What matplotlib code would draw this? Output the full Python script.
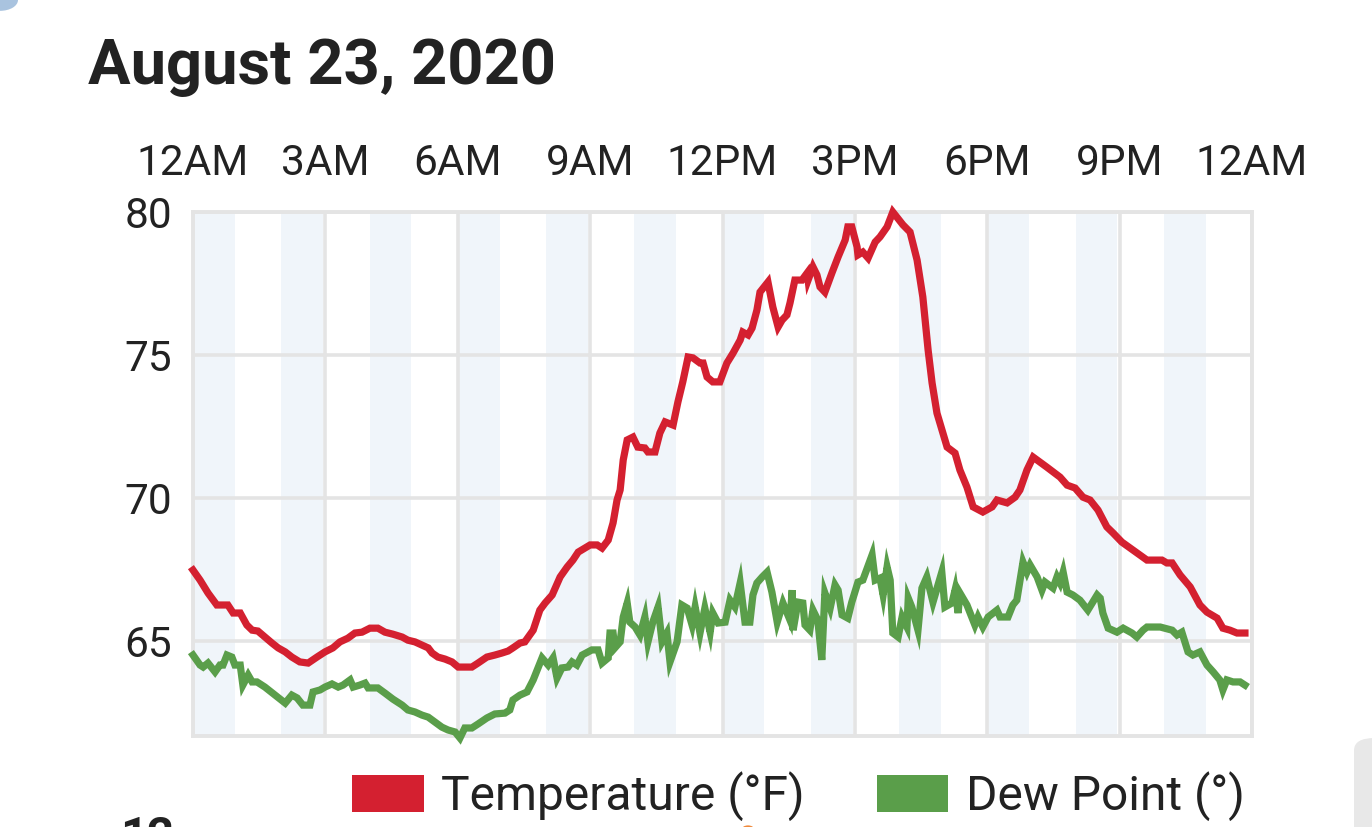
import matplotlib
matplotlib.use("Agg")
import matplotlib.pyplot as plt
from matplotlib.patches import FancyBboxPatch, Rectangle, Circle

# ---------------- data ----------------
title = "August 23, 2020"
tick_hours = [0, 3, 6, 9, 12, 15, 18, 21, 24]
tick_labels = ["12AM", "3AM", "6AM", "9AM", "12PM", "3PM", "6PM", "9PM", "12AM"]
y_ticks = [65, 70, 75, 80]
series_names = ["Temperature (°F)", "Dew Point (°)"]

temp_hours = [0.00, 0.16, 0.34, 0.54, 0.79, 0.91, 1.07, 1.22, 1.34, 1.47, 1.63, 1.79, 1.93,
              2.09, 2.24, 2.42, 2.61, 2.81, 2.99, 3.17, 3.33, 3.51, 3.67, 3.83, 4.01, 4.19,
              4.35, 4.53, 4.74, 4.87, 5.03, 5.19, 5.33, 5.42, 5.55, 5.71, 5.87, 6.01, 6.32,
              6.46, 6.66, 6.84, 7.00, 7.14, 7.25, 7.41, 7.52, 7.71, 7.86, 7.98, 8.14, 8.32,
              8.48, 8.61, 8.73, 9.00, 9.16, 9.27, 9.41, 9.52, 9.61, 9.68, 9.75, 9.84, 9.97,
              10.08, 10.24, 10.31, 10.47, 10.58, 10.70, 10.88, 10.99, 11.10, 11.22, 11.33,
              11.49, 11.56, 11.65, 11.78, 11.94, 12.10, 12.24, 12.40, 12.46, 12.58, 12.67,
              12.78, 12.85, 13.03, 13.14, 13.26, 13.35, 13.46, 13.53, 13.64, 13.80, 13.92,
              13.94, 14.05, 14.14, 14.21, 14.32, 14.48, 14.62, 14.78, 14.84, 14.93, 15.05,
              15.07, 15.18, 15.30, 15.46, 15.57, 15.73, 15.86, 16.09, 16.25, 16.41, 16.54,
              16.66, 16.75, 16.86, 17.09, 17.27, 17.38, 17.54, 17.68, 17.90, 18.11, 18.22,
              18.45, 18.63, 18.74, 18.90, 19.04, 19.35, 19.65, 19.81, 19.99, 20.17, 20.33,
              20.51, 20.71, 20.85, 21.05, 21.62, 21.96, 22.07, 22.19, 22.37, 22.60, 22.82,
              22.98, 23.21, 23.34, 23.50, 23.66, 23.84]
temp_values = [67.48, 67.13, 66.68, 66.26, 66.26, 65.98, 65.98, 65.56, 65.38, 65.35, 65.14,
               64.93, 64.76, 64.62, 64.44, 64.27, 64.23, 64.44, 64.62, 64.76, 64.97, 65.10,
               65.28, 65.31, 65.45, 65.45, 65.31, 65.24, 65.14, 65.03, 64.97, 64.86, 64.76,
               64.58, 64.44, 64.37, 64.27, 64.09, 64.09, 64.23, 64.44, 64.51, 64.58, 64.65,
               64.76, 64.93, 64.97, 65.38, 66.08, 66.33, 66.61, 67.24, 67.59, 67.83, 68.11,
               68.36, 68.36, 68.25, 68.53, 69.13, 69.93, 70.28, 71.33, 72.03, 72.13, 71.78,
               71.75, 71.61, 71.61, 72.27, 72.66, 72.55, 73.36, 74.06, 74.93, 74.90, 74.72,
               74.72, 74.23, 74.06, 74.06, 74.72, 75.07, 75.52, 75.80, 75.70, 75.94, 76.57,
               77.20, 77.55, 76.68, 75.98, 76.22, 76.40, 76.82, 77.62, 77.62, 77.87, 77.62,
               78.08, 77.80, 77.38, 77.20, 77.87, 78.43, 79.02, 79.48, 79.48, 78.78, 78.50,
               78.60, 78.39, 78.95, 79.13, 79.48, 80.00, 79.55, 79.30, 78.32, 77.03, 75.17,
               74.02, 72.97, 71.78, 71.57, 70.98, 70.38, 69.69, 69.51, 69.69, 69.93, 69.83,
               70.03, 70.28, 70.98, 71.43, 71.08, 70.73, 70.45, 70.35, 70.03, 69.93, 69.58,
               68.99, 68.78, 68.46, 67.83, 67.83, 67.73, 67.73, 67.31, 66.89, 66.26, 66.01,
               65.80, 65.45, 65.38, 65.28, 65.28]

dew_hours = [0.00, 0.16, 0.23, 0.34, 0.50, 0.61, 0.68, 0.77, 0.88, 0.95, 1.07, 1.13, 1.25,
             1.34, 1.45, 1.63, 1.86, 2.09, 2.24, 2.36, 2.49, 2.65, 2.72, 2.88, 2.99, 3.15,
             3.29, 3.40, 3.56, 3.63, 3.78, 3.90, 3.97, 4.19, 4.35, 4.53, 4.74, 4.87, 5.03,
             5.19, 5.33, 5.48, 5.64, 5.78, 5.94, 6.05, 6.16, 6.32, 6.46, 6.66, 6.84, 7.07,
             7.18, 7.25, 7.41, 7.57, 7.71, 7.91, 8.05, 8.16, 8.25, 8.36, 8.50, 8.59, 8.70,
             8.82, 9.04, 9.18, 9.27, 9.41, 9.45, 9.52, 9.56, 9.68, 9.75, 9.84, 9.90, 10.02,
             10.13, 10.24, 10.31, 10.42, 10.54, 10.63, 10.74, 10.81, 10.97, 11.08, 11.20,
             11.31, 11.38, 11.49, 11.60, 11.72, 11.78, 11.90, 12.06, 12.17, 12.28, 12.40,
             12.51, 12.62, 12.69, 12.78, 12.90, 13.01, 13.12, 13.24, 13.37, 13.53, 13.58,
             13.60, 13.71, 13.82, 13.87, 13.98, 14.05, 14.16, 14.25, 14.32, 14.44, 14.55,
             14.62, 14.71, 14.84, 14.93, 15.07, 15.18, 15.39, 15.46, 15.57, 15.64, 15.73,
             15.80, 15.86, 15.98, 16.07, 16.18, 16.21, 16.29, 16.43, 16.52, 16.63, 16.77,
             16.97, 17.04, 17.20, 17.27, 17.34, 17.38, 17.54, 17.72, 17.79, 17.90, 18.02,
             18.22, 18.29, 18.47, 18.58, 18.67, 18.81, 18.90, 18.97, 19.13, 19.24, 19.31,
             19.49, 19.58, 19.65, 19.72, 19.81, 19.94, 20.10, 20.28, 20.49, 20.56, 20.62,
             20.74, 20.94, 21.08, 21.28, 21.39, 21.53, 21.62, 21.92, 22.19, 22.30, 22.41,
             22.55, 22.66, 22.82, 22.98, 23.12, 23.27, 23.34, 23.43, 23.57, 23.73, 23.84]
dew_values = [64.51, 64.16, 64.09, 64.23, 63.92, 64.16, 64.16, 64.51, 64.44, 64.16, 64.16,
              63.46, 63.81, 63.57, 63.57, 63.39, 63.11, 62.83, 63.11, 63.01, 62.76, 62.76,
              63.22, 63.29, 63.39, 63.50, 63.39, 63.46, 63.64, 63.39, 63.46, 63.53, 63.36,
              63.36, 63.18, 62.97, 62.76, 62.59, 62.52, 62.41, 62.34, 62.17, 61.99, 61.89,
              61.82, 61.61, 61.96, 61.96, 62.10, 62.31, 62.45, 62.48, 62.59, 62.94, 63.11,
              63.22, 63.64, 64.41, 64.16, 64.41, 63.71, 64.06, 64.09, 64.27, 64.16, 64.51,
              64.69, 64.69, 64.23, 64.41, 65.28, 65.28, 64.76, 64.97, 65.84, 66.33, 65.66,
              65.49, 65.21, 65.84, 64.97, 65.66, 66.19, 64.97, 65.28, 64.27, 64.97, 66.26,
              66.15, 65.56, 66.19, 65.28, 66.15, 65.31, 65.98, 65.63, 65.66, 66.43, 66.19,
              67.03, 65.66, 65.66, 66.61, 67.03, 67.24, 67.41, 66.71, 65.66, 66.33, 65.73,
              66.78, 65.38, 66.36, 66.33, 65.56, 65.38, 66.08, 65.73, 64.34, 66.68, 66.15,
              66.96, 66.78, 65.91, 65.80, 66.36, 67.06, 67.13, 68.01, 67.13, 67.20, 66.61,
              67.59, 67.13, 65.28, 65.14, 65.84, 65.49, 66.50, 66.19, 65.38, 66.85, 67.24,
              66.36, 67.41, 66.19, 66.33, 66.78, 65.98, 66.68, 66.26, 65.56, 65.84, 65.49,
              65.84, 66.08, 65.84, 65.84, 66.26, 66.43, 67.76, 67.41, 67.66, 67.24, 66.78,
              67.06, 66.85, 67.24, 67.03, 67.41, 66.71, 66.61, 66.43, 66.08, 66.61, 66.50,
              65.98, 65.45, 65.31, 65.45, 65.28, 65.14, 65.38, 65.49, 65.49, 65.38, 65.21,
              65.31, 64.62, 64.51, 64.62, 64.16, 63.92, 63.64, 63.29, 63.64, 63.57, 63.57,
              63.46]

# ---------------- style ----------------
RED = "#d42030"
GREEN = "#5a9e4a"
GRID = "#e4e4e4"
BAND = "#f0f5fa"
TXT = "#222222"
FONT = ["Roboto", "DejaVu Sans"]
plt.rcParams["font.family"] = FONT

W, H = 1372, 827
fig = plt.figure(figsize=(W / 100, H / 100), dpi=100)
fig.patch.set_facecolor("white")

ax = fig.add_axes([193 / W, 1 - 736 / H, (1252 - 193) / W, (736 - 212) / H])
ax.set_xlim(0, 24)
ax.set_ylim(61.68, 80)

# alternating hourly bands
for h in range(0, 24, 2):
    ax.axvspan(h, h + 0.95, color=BAND, lw=0, zorder=0)

ax.set_xticks(tick_hours)
ax.set_xticklabels(tick_labels)
ax.set_yticks(y_ticks)
ax.grid(True, color=GRID, lw=2.6, zorder=1)
ax.xaxis.tick_top()
ax.tick_params(axis="x", length=0, pad=20, labelsize=30.5, colors=TXT)
ax.tick_params(axis="y", length=0, pad=15, labelsize=30.5, colors=TXT)
for s in ax.spines.values():
    s.set_color(GRID)
    s.set_linewidth(2.8)

ax.plot(temp_hours, temp_values, color=RED, lw=5.2, zorder=3,
        solid_joinstyle="miter", clip_on=False)
ax.plot(dew_hours, dew_values, color=GREEN, lw=5.2, zorder=3,
        solid_joinstyle="miter", clip_on=False)

# title
fig.text(88 / W, 1 - 84 / H, title, fontsize=45.5, fontweight="bold", color=TXT,
         ha="left", va="baseline")

# legend (manual, horizontal under plot)
fig.patches.append(Rectangle((352 / W, 1 - 812 / H), 72 / W, 37 / H,
                             transform=fig.transFigure, color=RED, lw=0))
fig.text(441 / W, 1 - 810 / H, series_names[0], fontsize=34.5, color=TXT,
         ha="left", va="baseline")
fig.patches.append(Rectangle((877 / W, 1 - 812 / H), 71 / W, 37 / H,
                             transform=fig.transFigure, color=GREEN, lw=0))
fig.text(966 / W, 1 - 810 / H, series_names[1], fontsize=34.5, color=TXT,
         ha="left", va="baseline")

# partial next-chart label and page decorations
fig.text(120 / W, 1 - 850 / H, "12", fontsize=34, fontweight="bold", color=TXT,
         ha="left", va="baseline")
fig.patches.append(FancyBboxPatch((1354 / W, -0.05), 40 / W, (827 - 738) / H + 0.05,
                                  boxstyle="round,pad=0,rounding_size=0.015",
                                  transform=fig.transFigure, color="#e8e8e8", lw=0))
fig.patches.append(Circle((748 / W, 1 - 829 / H), 6 / W, transform=fig.transFigure,
                          color="#f08a3c", lw=0))
fig.patches.append(Circle((0, 1.0), 18 / W, transform=fig.transFigure,
                          color="#a9c3df", lw=0))

fig.savefig("out.png", dpi=100, facecolor="white")
